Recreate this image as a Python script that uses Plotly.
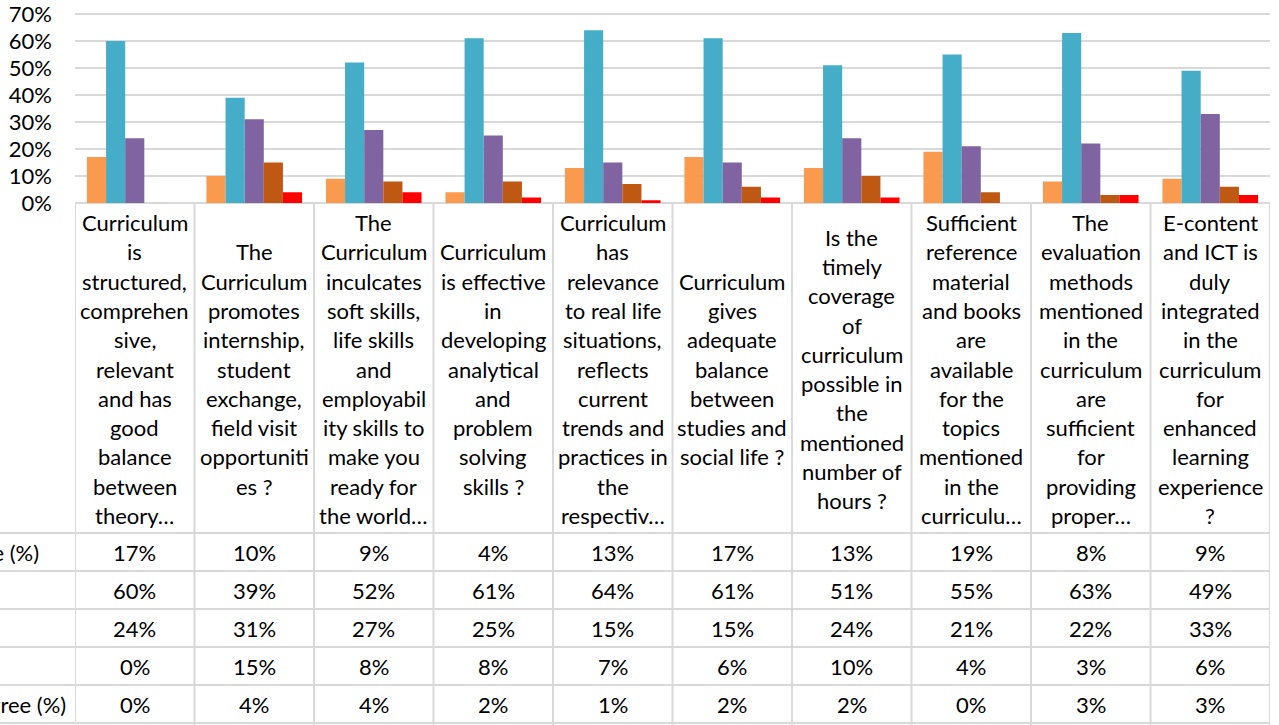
import plotly.graph_objects as go

# ---------------- data ----------------
categories = [
    "Curriculum\nis\nstructured,\ncomprehen\nsive,\nrelevant\nand has\ngood\nbalance\nbetween\ntheory…",
    "The\nCurriculum\npromotes\ninternship,\nstudent\nexchange,\nfield visit\nopportuniti\nes ?",
    "The\nCurriculum\ninculcates\nsoft skills,\nlife skills\nand\nemployabil\nity skills to\nmake you\nready for\nthe world…",
    "Curriculum\nis effective\nin\ndeveloping\nanalytical\nand\nproblem\nsolving\nskills ?",
    "Curriculum\nhas\nrelevance\nto real life\nsituations,\nreflects\ncurrent\ntrends and\npractices in\nthe\nrespectiv…",
    "Curriculum\ngives\nadequate\nbalance\nbetween\nstudies and\nsocial life ?",
    "Is the\ntimely\ncoverage\nof\ncurriculum\npossible in\nthe\nmentioned\nnumber of\nhours ?",
    "Sufficient\nreference\nmaterial\nand books\nare\navailable\nfor the\ntopics\nmentioned\nin the\ncurriculu…",
    "The\nevaluation\nmethods\nmentioned\nin the\ncurriculum\nare\nsufficient\nfor\nproviding\nproper…",
    "E-content\nand ICT is\nduly\nintegrated\nin the\ncurriculum\nfor\nenhanced\nlearning\nexperience\n?",
]

series_names = ["Strongly Agree (%)", "Agree (%)", "Neutral (%)", "Disagree (%)", "Strongly Disagree (%)"]
strongly_agree = [17, 10, 9, 4, 13, 17, 13, 19, 8, 9]
agree = [60, 39, 52, 61, 64, 61, 51, 55, 63, 49]
neutral = [24, 31, 27, 25, 15, 15, 24, 21, 22, 33]
disagree = [0, 15, 8, 8, 7, 6, 10, 4, 3, 6]
strongly_disagree = [0, 4, 4, 2, 1, 2, 2, 0, 3, 3]
series_values = [strongly_agree, agree, neutral, disagree, strongly_disagree]

y_ticks = [0, 10, 20, 30, 40, 50, 60, 70]

# ---------------- styling ----------------
W, H = 1279, 725
colors = ["#F99A4E", "#46ADC8", "#8063A1", "#BF5812", "#FF0000"]
FONT = "Lato"
FS = 22
GRID = "#D9D9D9"

# layout positions in screen pixels
plot_left, plot_right = 75, 1270
y70, plot_bottom = 14, 203
y_max = 72
plot_top = plot_bottom - (plot_bottom - y70) * y_max / 70
label_top, label_bottom = 205, 533
row_h = 38

def px(x):
    return x / W

def py(y):
    return 1 - y / H

fig = go.Figure()
for name, vals, col in zip(series_names, series_values, colors):
    fig.add_trace(go.Bar(
        x=categories, y=vals, name=name,
        marker=dict(color=col, line=dict(width=0)),
    ))

n_cat = len(categories)
shapes = []
annotations = []

# vertical table lines
for i in range(n_cat + 1):
    shapes.append(dict(type="line", xref="x", yref="paper",
                       x0=i - 0.5, x1=i - 0.5, y0=py(plot_bottom), y1=py(726),
                       line=dict(color=GRID, width=2)))
# horizontal table lines (value rows extend across the row-label column)
for r in range(len(series_names) + 1):
    yy = label_bottom + r * row_h
    shapes.append(dict(type="line", xref="paper", yref="paper",
                       x0=px(0), x1=px(plot_right), y0=py(yy), y1=py(yy),
                       line=dict(color=GRID, width=2)))

# category labels (one annotation per line)
pitch = 29.3
center = (label_top + label_bottom) / 2
for i, cat in enumerate(categories):
    lines = cat.split("\n")
    n = len(lines)
    for j, ln in enumerate(lines):
        yy = center + (j - (n - 1) / 2) * pitch
        annotations.append(dict(xref="x", yref="paper", x=i, y=py(yy),
                                text=ln, showarrow=False, xanchor="center", yanchor="middle",
                                font=dict(family=FONT, size=FS, color="black")))

# values in the data table
for r, vals in enumerate(series_values):
    yy = label_bottom + r * row_h + row_h / 2
    for i, v in enumerate(vals):
        annotations.append(dict(xref="x", yref="paper", x=i, y=py(yy),
                                text=f"{v}%", showarrow=False, xanchor="center", yanchor="middle",
                                font=dict(family=FONT, size=FS, color="black")))

# row labels (clipped at the left edge of the picture, as in the original)
row_label_right = [41, -20, -20, -20, 68]
for r, name in enumerate(series_names):
    yy = label_bottom + r * row_h + row_h / 2
    annotations.append(dict(xref="paper", yref="paper", x=px(row_label_right[r]), y=py(yy),
                            text=name, showarrow=False, xanchor="right", yanchor="middle",
                            font=dict(family=FONT, size=FS, color="black")))

fig.update_layout(
    width=W, height=H,
    margin=dict(l=0, r=0, t=0, b=0, autoexpand=False),
    paper_bgcolor="white", plot_bgcolor="white",
    barmode="group", bargap=0.2, bargroupgap=0,
    showlegend=False,
    font=dict(family=FONT, size=FS, color="black"),
    xaxis=dict(domain=[px(plot_left), px(plot_right)], showticklabels=False,
               showgrid=False, zeroline=False, showline=False, ticks="",
               range=[-0.5, n_cat - 0.5], automargin=False),
    yaxis=dict(domain=[py(plot_bottom), py(plot_top)], range=[0, y_max],
               tickvals=y_ticks, ticktext=[f"{t}%" for t in y_ticks],
               showgrid=True, gridcolor=GRID, gridwidth=2,
               zeroline=True, zerolinecolor=GRID, zerolinewidth=2,
               ticks="", ticklabelstandoff=22, automargin=False,
               ticklabeloverflow="allow",
               tickfont=dict(family=FONT, size=FS, color="black")),
    shapes=shapes,
    annotations=annotations,
)

fig.write_html("out.html", config={"displayModeBar": False},
               post_script="document.body.style.margin='0';")
